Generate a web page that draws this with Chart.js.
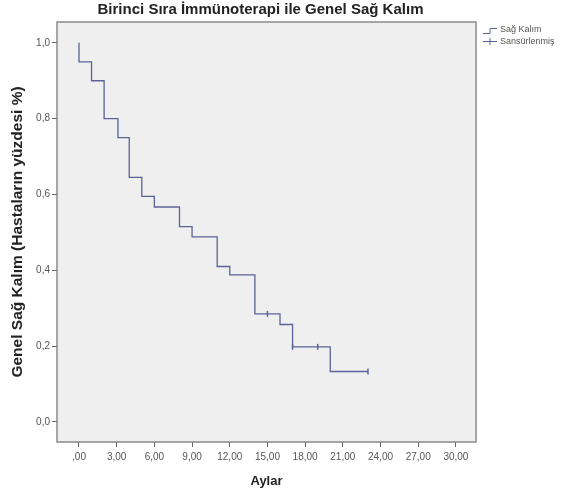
<!DOCTYPE html>
<html>
<head>
<meta charset="utf-8">
<script src="https://cdn.jsdelivr.net/npm/chart.js@4/dist/chart.umd.min.js"></script>
<style>
  html, body { margin: 0; padding: 0; background: #fff; }
  #wrap { width: 568px; height: 497px; }
</style>
</head>
<body>
<div id="wrap"><canvas id="myChart" width="568" height="497"></canvas></div>
<script>
// Survival steps (months, survival)
const stepMonths = [0, 0, 1, 2, 3.1, 4, 5, 6, 8, 9, 11, 12, 14, 16, 17, 20, 23]
const survival = [1.0, 0.95, 0.90, 0.80, 0.75, 0.645, 0.595, 0.567, 0.515, 0.488, 0.41, 0.388, 0.285, 0.257, 0.198, 0.133, 0.133]

// Censored observations
const censorMonths = [15, 17, 19, 23]
const censorSurvival = [0.285, 0.198, 0.198, 0.133]

// Axis ticks
const xTicks = [0, 3, 6, 9, 12, 15, 18, 21, 24, 27, 30]
const xTickLabels = [',00', '3,00', '6,00', '9,00', '12,00', '15,00', '18,00', '21,00', '24,00', '27,00', '30,00']
const yTicks = [0, 0.2, 0.4, 0.6, 0.8, 1.0]
const yTickLabels = ['0,0', '0,2', '0,4', '0,6', '0,8', '1,0']

const chartTitle = 'Birinci Sıra İmmünoterapi ile Genel Sağ Kalım'
const legendLabels = ['Sağ Kalım', 'Sansürlenmiş']

const lineColor = '#5b6396'
const fontFamily = 'Arial, "Liberation Sans", sans-serif'

// Plot frame, grey background, title over the plot and the small legend
const framePlugin = {
    id: 'frame',
    beforeDraw(chart) {
        const a = chart.chartArea
        const ctx = chart.ctx
        ctx.save()
        ctx.fillStyle = '#efefef'
        ctx.fillRect(a.left, a.top, a.right - a.left, a.bottom - a.top)
        ctx.restore()
    },
    afterDraw(chart) {
        const a = chart.chartArea
        const ctx = chart.ctx
        ctx.save()
        ctx.strokeStyle = '#8a8a8a'
        ctx.lineWidth = 1.5
        ctx.strokeRect(a.left, a.top, a.right - a.left, a.bottom - a.top)

        ctx.fillStyle = '#222'
        ctx.font = 'bold 15px ' + fontFamily
        ctx.textAlign = 'center'
        ctx.textBaseline = 'middle'
        ctx.fillText(chartTitle, (a.left + a.right) / 2 - 6, 10)

        ctx.strokeStyle = lineColor
        ctx.lineWidth = 1
        ctx.beginPath()
        ctx.moveTo(483, 33.5)
        ctx.lineTo(490, 33.5)
        ctx.lineTo(490, 28.5)
        ctx.lineTo(497, 28.5)
        ctx.moveTo(483, 41.5)
        ctx.lineTo(497, 41.5)
        ctx.moveTo(490, 38)
        ctx.lineTo(490, 45)
        ctx.stroke()
        ctx.fillStyle = '#555'
        ctx.font = '9px ' + fontFamily
        ctx.textAlign = 'left'
        ctx.fillText(legendLabels[0], 500, 30)
        ctx.fillText(legendLabels[1], 500, 41.5)
        ctx.restore()
    }
}

const ctx = document.getElementById('myChart').getContext('2d')
const myChart = new Chart(ctx, {
    type: 'line',
    data: {
        datasets: [{
            label: legendLabels[0],
            data: stepMonths.map((m, i) => ({ x: m, y: survival[i] })),
            stepped: 'before',
            borderColor: lineColor,
            borderWidth: 1.3,
            pointRadius: 0,
            fill: false
        }, {
            label: legendLabels[1],
            data: censorMonths.map((m, i) => ({ x: m, y: censorSurvival[i] })),
            showLine: false,
            pointStyle: 'line',
            rotation: 90,
            pointRadius: 3,
            borderColor: lineColor,
            borderWidth: 1.5
        }]
    },
    options: {
        responsive: false,
        animation: false,
        layout: { padding: { top: 22, right: 92, bottom: 0, left: 0 } },
        plugins: {
            legend: { display: false },
            tooltip: { enabled: false },
            title: { display: false }
        },
        scales: {
            x: {
                type: 'linear',
                min: -1.75,
                max: 31.6,
                afterBuildTicks: (scale) => { scale.ticks = xTicks.map(v => ({ value: v })) },
                afterFit: (scale) => { scale.height = 55 },
                ticks: {
                    autoSkip: false,
                    maxRotation: 0,
                    padding: 4,
                    color: '#555',
                    font: { family: fontFamily, size: 10 },
                    callback: (v) => xTickLabels[xTicks.indexOf(v)]
                },
                grid: { drawOnChartArea: false, drawTicks: true, tickLength: 5, color: '#666' },
                border: { display: false },
                title: {
                    display: true,
                    text: 'Aylar',
                    color: '#222',
                    font: { family: fontFamily, size: 13, weight: 'bold' },
                    padding: { top: 0, bottom: 8 }
                }
            },
            y: {
                type: 'linear',
                min: -0.053,
                max: 1.055,
                afterBuildTicks: (scale) => { scale.ticks = yTicks.map(v => ({ value: v })) },
                afterFit: (scale) => { scale.width = 57 },
                ticks: {
                    autoSkip: false,
                    padding: 2,
                    color: '#555',
                    font: { family: fontFamily, size: 10 },
                    callback: (v) => yTickLabels[yTicks.findIndex(t => Math.abs(t - v) < 1e-6)]
                },
                grid: { drawOnChartArea: false, drawTicks: true, tickLength: 5, color: '#666' },
                border: { display: false },
                title: {
                    display: true,
                    text: 'Genel Sağ Kalım (Hastaların yüzdesi %)',
                    color: '#222',
                    font: { family: fontFamily, size: 15.5, weight: 'bold' },
                    padding: { top: 8, bottom: 0 }
                }
            }
        }
    },
    plugins: [framePlugin]
})
</script>
</body>
</html>
